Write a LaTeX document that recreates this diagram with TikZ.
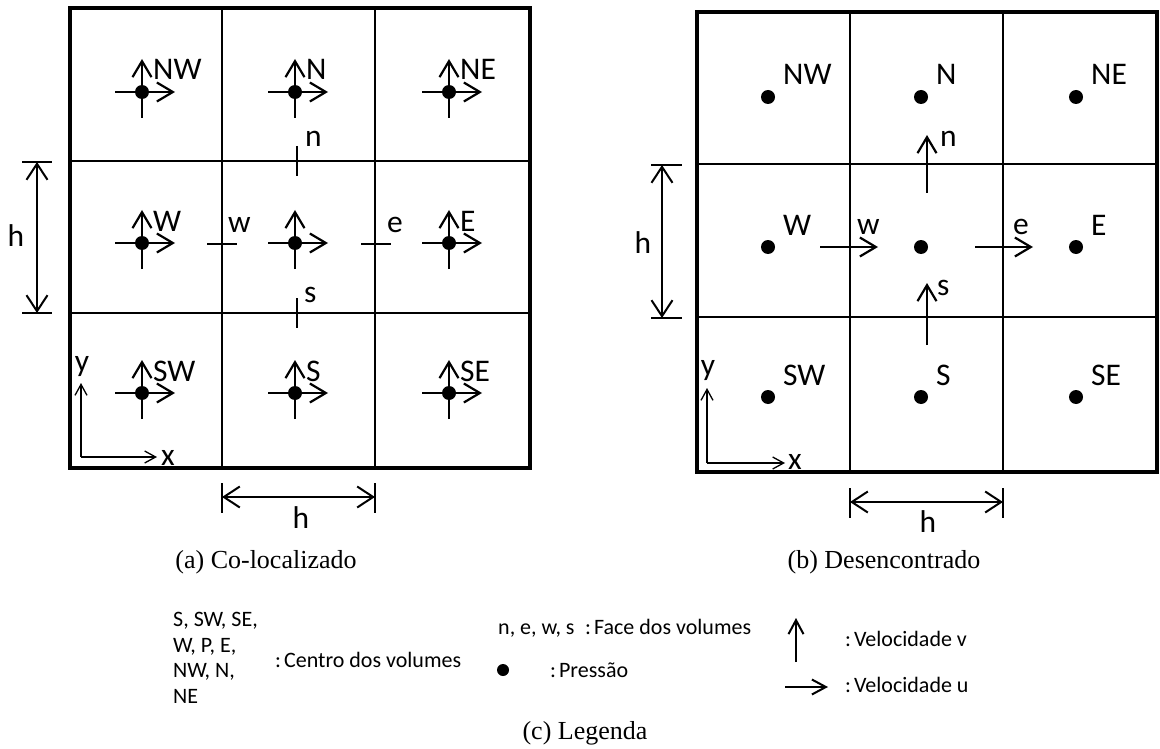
\documentclass[tikz,border=0pt]{standalone}
\usepackage{fontspec}
\setmainfont{Liberation Serif}
\newfontfamily\calibri{Carlito}
\usetikzlibrary{arrows.meta, positioning}

\begin{document}
\begin{tikzpicture}[
  x=1pt, y=-1pt,
  grid/.style={line width=2pt},
  frame/.style={line width=4pt, line join=miter},
  pdot/.style={circle, fill=black, inner sep=0pt, minimum size=14pt},
  lbl/.style={font=\calibri\fontsize{31.5}{36}\selectfont, inner sep=0pt, anchor=base west},
  vel/.style={-{Straight Barb[length=16pt, width=19pt, line width=2.2pt]}, line width=2.5pt},
  tick/.style={line width=2.5pt},
  dim/.style={{Straight Barb[length=16pt, width=21pt, line width=2pt]}-{Straight Barb[length=16pt, width=21pt, line width=2pt]}, line width=2pt},
  axis/.style={-{Straight Barb[length=11pt, width=12pt, line width=1.3pt]}, line width=1.3pt},
  legarrow/.style={-{Straight Barb[length=14pt, width=15pt, line width=2pt]}, line width=2pt},
  caption/.style={font=\fontsize{26}{30}\selectfont, inner sep=0pt},
  legend/.style={font=\calibri\fontsize{22}{25.5}\selectfont, inner sep=0pt}
]
\useasboundingbox (0,0) rectangle (1160,749);

% (a) co-localizado
\draw[grid] (222,8) -- (222,468) (375,8) -- (375,468) (70,161) -- (530,161) (70,313) -- (530,313);
\draw[frame] (70,8) rectangle (530,468);

\foreach \name/\px/\py in {NW/142/92, N/295/92, NE/449/92, W/142/243, P/295/243, E/449/243, SW/142/393, S/295/393, SE/449/393} {
  \node[pdot] (a\name) at (\px,\py) {};
  \draw[vel] ([xshift=-27pt]a\name.center) -- ([xshift=33pt]a\name.center);
  \draw[vel] ([yshift=-26pt]a\name.center) -- ([yshift=33pt]a\name.center);
}
\foreach \name in {NW, N, NE, W, E, SW, S, SE}
  \node[lbl] (la\name) at ([xshift=11pt, yshift=12pt]a\name.center) {\name};

\coordinate (an) at (297,161);
\coordinate (as) at (297,313);
\coordinate (aw) at (222,244);
\coordinate (ae) at (376,244);
\draw[tick] ([yshift=15pt]an) -- ([yshift=-15pt]an);
\draw[tick] ([yshift=15pt]as) -- ([yshift=-15pt]as);
\draw[tick] ([xshift=-15pt]aw) -- ([xshift=15pt]aw);
\draw[tick] ([xshift=-15pt]ae) -- ([xshift=15pt]ae);
\node[lbl] (lan) at (305,147) {n};
\node[lbl] (las) at (304,302) {s};
\node[lbl] (law) at (228,232) {w};
\node[lbl] (lae) at (387,232) {e};

% dimensions and axes
\coordinate (av1) at (37,162);
\coordinate (av2) at (37,313);
\draw[grid] ([xshift=-15pt]av1) -- ([xshift=15pt]av1) ([xshift=-15pt]av2) -- ([xshift=15pt]av2);
\draw[dim] (av1) -- (av2);
\node[lbl, anchor=center] (ahv) at (16,236) {h};
\coordinate (ah1) at (222,497);
\coordinate (ah2) at (375,497);
\draw[grid] ([yshift=14pt]ah1) -- ([yshift=-16pt]ah1) ([yshift=14pt]ah2) -- ([yshift=-16pt]ah2);
\draw[dim] (ah1) -- (ah2);
\node[lbl, anchor=center] (ahh) at (301,518) {h};

\coordinate (ao) at (81,457);
\draw[axis] (ao) -- (81,383);
\draw[axis] (ao) -- (157,457);
\node[lbl, anchor=center] (aay) at (82,367) {y};
\node[lbl, anchor=center] (aax) at (168,458) {x};

\node[caption] (capa) at (266,562) {(a) Co-localizado};

% (b) desencontrado
\draw[grid] (850,12) -- (850,472) (1003,12) -- (1003,472) (697,164) -- (1157,164) (697,317) -- (1157,317);
\draw[frame] (697,12) rectangle (1157,472);

\foreach \name/\px/\py in {NW/768/97, N/921/97, NE/1076/97, W/768/247, P/921/247, E/1076/247, SW/768/397, S/921/397, SE/1076/397}
  \node[pdot] (b\name) at (\px,\py) {};
\foreach \name in {NW, N, NE, W, E, SW, S, SE}
  \node[lbl] (lb\name) at ([xshift=15pt, yshift=12pt]b\name.center) {\name};

\coordinate (bn) at (927,164);
\coordinate (bs) at (927,317);
\coordinate (bw) at (850,247);
\coordinate (be) at (1003,247);
\draw[vel] ([yshift=-29pt]bn) -- ([yshift=29pt]bn);
\draw[vel] ([yshift=-28pt]bs) -- ([yshift=34pt]bs);
\draw[vel] ([xshift=-30pt]bw) -- ([xshift=28pt]bw);
\draw[vel] ([xshift=-28pt]be) -- ([xshift=30pt]be);
\node[lbl] (lbn) at (940,147) {n};
\node[lbl] (lbs) at (937,295) {s};
\node[lbl] (lbw) at (857,234) {w};
\node[lbl] (lbe) at (1013,234) {e};

\coordinate (bv1) at (662,165);
\coordinate (bv2) at (662,318);
\draw[grid] ([xshift=-11pt]bv1) -- ([xshift=20pt]bv1) ([xshift=-11pt]bv2) -- ([xshift=20pt]bv2);
\draw[dim] (bv1) -- (bv2);
\node[lbl, anchor=center] (bhv) at (643,243) {h};
\coordinate (bh1) at (850,502);
\coordinate (bh2) at (1003,502);
\draw[grid] ([yshift=14pt]bh1) -- ([yshift=-16pt]bh1) ([yshift=14pt]bh2) -- ([yshift=-16pt]bh2);
\draw[dim] (bh1) -- (bh2);
\node[lbl, anchor=center] (bhh) at (928,522) {h};

\coordinate (bo) at (707,463);
\draw[axis] (bo) -- (707,388);
\draw[axis] (bo) -- (785,463);
\node[lbl, anchor=center] (bay) at (708,371) {y};
\node[lbl, anchor=center] (bax) at (795,462) {x};

\node[caption] (capb) at (884,562) {(b) Desencontrado};

% (c) legenda
\node[legend, align=left, anchor=west] (lcent) at (173,658) {S, SW, SE,\\W, P, E,\\NW, N,\\NE};
\node[legend, anchor=west] (lcdesc) at (275,660) {:\hspace{3pt}Centro dos volumes};
\node[legend, anchor=base west] (lface) at (498,634) {n, e, w, s};
\node[legend, anchor=base west] (lfdesc) at (585,634) {:\hspace{3pt}Face dos volumes};
\node[pdot, minimum size=12pt] (ldot) at (503,670) {};
\node[legend, anchor=base west] (lpdesc) at (550,677) {:\hspace{3pt}Pressão};
\coordinate (lv0) at (796,662);
\coordinate (lv1) at (796,618);
\draw[legarrow] (lv0) -- (lv1);
\node[legend, anchor=base west] (lvdesc) at (845,646) {:\hspace{3pt}Velocidade v};
\coordinate (lu0) at (785,687);
\coordinate (lu1) at (828,687);
\draw[legarrow] (lu0) -- (lu1);
\node[legend, anchor=base west] (ludesc) at (845,692) {:\hspace{3pt}Velocidade u};

\node[caption] (capc) at (585,733) {(c) Legenda};
\end{tikzpicture}
\end{document}
